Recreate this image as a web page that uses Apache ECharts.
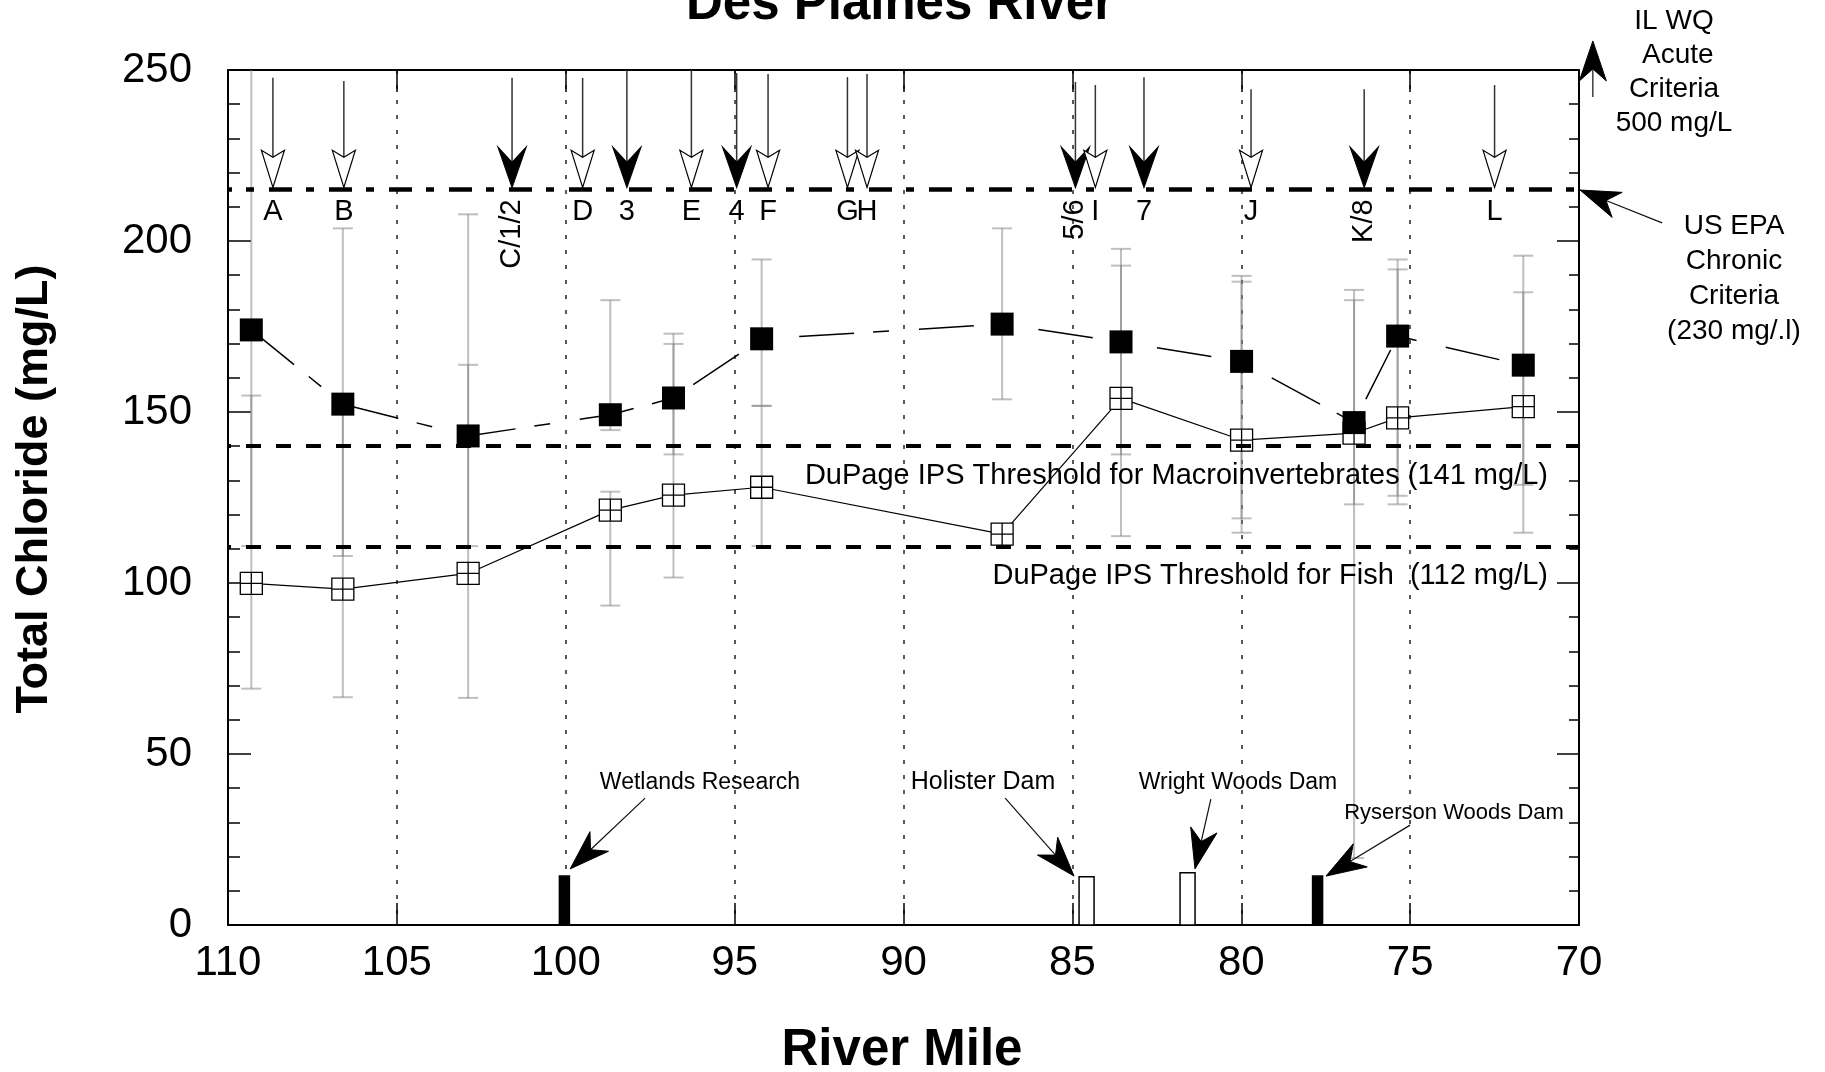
<!DOCTYPE html>
<html><head><meta charset="utf-8">
<script src="https://cdn.jsdelivr.net/npm/echarts@6/dist/echarts.min.js"></script>
<style>html,body{margin:0;padding:0;background:#fff}#c{width:1825px;height:1072px}</style>
</head><body><div id="c"></div>
<script>
// ---------- data ----------
const riverMiles     = [109.31,106.60,102.89,98.68,96.81,94.20,87.08,83.56,79.99,76.66,75.37,71.65];
const chlorideFilled = [174.0,152.3,143.0,149.2,154.1,171.4,175.7,170.5,164.8,146.9,172.2,163.7];
const chlorideOpen   = [99.9,98.2,102.8,121.3,125.7,128.0,114.3,154.0,141.8,143.8,148.3,151.6];
const rangeFilled = [[110.8,262],[107.9,203.7],[110.8,207.8],[144.7,182.7],[137.6,172.9],[151.8,194.6],[153.7,203.7],[137.6,197.7],[118.9,189.8],[19.6,185.7],[125.5,194.6],[128.7,195.7]];
const rangeOpen   = [[69.1,154.8],[66.6,150.0],[66.4,163.8],[93.4,126.7],[101.6,169.9],[110.8,151.8],null,[113.7,192.8],[114.7,188.1],[123.0,182.7],[123.0,191.7],[114.7,185.0]];

const siteNames    = ['A','B','C/1/2','D','3','E','4','F','G','H','5/6','I','7','J','K/8','L'];
const siteMiles    = [108.67,106.57,101.59,99.50,98.19,96.28,94.94,94.01,91.66,91.08,84.91,84.32,82.88,79.71,76.36,72.50];
const siteArrowTop = [247.7,246.8,247.7,247.7,250,250,249.1,248.8,247.9,248.8,246.5,245.6,247.9,244.4,244.4,245.6];
const siteFilled   = [0,0,1,0,1,0,1,0,0,0,1,0,1,0,1,0];
const siteRotated  = [0,0,1,0,0,0,0,0,0,0,1,0,0,0,1,0];

const epaChronicLine = 215.1;
const dupageMacro = 140;
const dupageFish = 110.5;

const damNames   = ['Wetlands Research','Holister Dam','Wright Woods Dam','Ryserson Woods Dam'];
const damMiles   = [100.04,84.58,81.59,77.74];
const damHeights = [14.3,14.1,15.3,14.3];
const damFilled  = [1,0,0,1];

// annotation arrows: from (mile, mg/L) to (mile, mg/L)
const annotFrom = [[97.65,37.1],[86.99,37.1],[80.90,36.8],[75.00,29.2],[67.54,205.3],[69.59,242.1]];
const annotTo   = [[99.87,16.4],[84.95,14.3],[81.37,16.4],[77.49,14.3],[69.97,214.9],[69.59,258.5]];

const xMin = 70, xMax = 110, xStep = 5;
const yMin = 0, yMax = 250, yStep = 50;

// ---------- chart ----------
const FF = '"Liberation Sans", Arial, Helvetica, sans-serif';
const chart = echarts.init(document.getElementById('c'), null, {renderer:'canvas'});

function head(tip, d, L, W, N) {
  const nx = -d[1], ny = d[0];
  const bx = tip[0] - d[0]*L, by = tip[1] - d[1]*L;
  return {
    pts: [[tip[0],tip[1]],[bx+nx*W, by+ny*W],[tip[0]-d[0]*(L-N), tip[1]-d[1]*(L-N)],[bx-nx*W, by-ny*W]],
    notch: [tip[0]-d[0]*(L-N), tip[1]-d[1]*(L-N)]
  };
}

const errData = [];
riverMiles.forEach((m,i)=>{
  errData.push([m, rangeFilled[i][0], rangeFilled[i][1]]);
  if (rangeOpen[i]) errData.push([m, rangeOpen[i][0], rangeOpen[i][1]]);
});

const option = {
  animation: false,
  textStyle: {fontFamily: FF},
  grid: {left: 228, right: 246, top: 70, bottom: 147, containLabel: false},
  xAxis: [
    {type:'value', min:xMin, max:xMax, interval:xStep, inverse:true, position:'bottom',
     axisLine:{show:true, onZero:false, lineStyle:{color:'#000', width:2}},
     axisTick:{show:true, inside:true, length:22, lineStyle:{color:'#000', width:1.5}},
     axisLabel:{fontSize:42, color:'#000', margin:17, fontFamily:FF},
     splitLine:{show:true, lineStyle:{color:'#222', width:1.5, type:[4,11]}}},
    {type:'value', min:xMin, max:xMax, interval:xStep, inverse:true, position:'top',
     axisLine:{show:true, onZero:false, lineStyle:{color:'#000', width:2}},
     axisTick:{show:true, inside:true, length:22, lineStyle:{color:'#000', width:1.5}},
     axisLabel:{show:false}, splitLine:{show:false}}
  ],
  yAxis: [
    {type:'value', min:yMin, max:yMax, interval:yStep, position:'left',
     axisLine:{show:true, onZero:false, lineStyle:{color:'#000', width:2}},
     axisTick:{show:true, inside:true, length:23, lineStyle:{color:'#000', width:1.5}},
     minorTick:{show:true, splitNumber:5, length:12, lineStyle:{color:'#000', width:1.5}},
     axisLabel:{fontSize:42, color:'#000', margin:36, fontFamily:FF},
     splitLine:{show:false}},
    {type:'value', min:yMin, max:yMax, interval:yStep, position:'right',
     axisLine:{show:true, onZero:false, lineStyle:{color:'#000', width:2}},
     axisTick:{show:true, inside:true, length:22, lineStyle:{color:'#000', width:1.5}},
     minorTick:{show:true, splitNumber:5, length:10, lineStyle:{color:'#000', width:1.5}},
     axisLabel:{show:false}, splitLine:{show:false}}
  ],
  series: [
    { // error bars
      type:'custom', z:2, clip:true, data: errData,
      renderItem(params, api){
        const x = api.value(0), lo = api.value(1), hi = api.value(2);
        const p1 = api.coord([x, lo]), p2 = api.coord([x, hi]);
        const st = {stroke:'rgba(128,128,128,0.5)', lineWidth:2};
        return {type:'group', children:[
          {type:'line', shape:{x1:p1[0], y1:p1[1], x2:p2[0], y2:p2[1]}, style:st},
          {type:'line', shape:{x1:p1[0]-10, y1:p1[1], x2:p1[0]+10, y2:p1[1]}, style:st},
          {type:'line', shape:{x1:p2[0]-10, y1:p2[1], x2:p2[0]+10, y2:p2[1]}, style:st}
        ]};
      }
    },
    { // dams
      type:'custom', z:2, clip:false,
      data: damMiles.map((m,i)=>[m, damHeights[i], damFilled[i]]),
      renderItem(params, api){
        const b = api.coord([api.value(0), 0]), t = api.coord([api.value(0), api.value(1)]);
        const filled = api.value(2) === 1, w = filled ? 10 : 15;
        return {type:'rect', shape:{x:b[0]-w/2, y:t[1], width:w, height:b[1]-t[1]},
                style:{fill: filled ? '#000' : '#fff', stroke:'#000', lineWidth:1.5}};
      }
    },
    { // open squares
      type:'line', z:3, name:'open',
      data: riverMiles.map((m,i)=>[m, chlorideOpen[i]]),
      symbol:'path://M0,0H20V20H0ZM10,0V20M0,10H20', symbolSize:22,
      itemStyle:{color:'#fff', borderColor:'#000', borderWidth:1.3},
      lineStyle:{color:'#000', width:1.2},
      markLine:{silent:true, symbol:['none','none'], label:{show:false}, animation:false,
        data:[
          {yAxis:dupageMacro, lineStyle:{color:'#000', width:4, type:[15,15], dashOffset:2}},
          {yAxis:dupageFish, lineStyle:{color:'#000', width:4, type:[15,15], dashOffset:2}},
          {yAxis:epaChronicLine, lineStyle:{color:'#000', width:4.5, type:[23,15,8,14], dashOffset:33}}
        ]}
    },
    { // filled squares
      type:'line', z:4, name:'filled',
      data: riverMiles.map((m,i)=>[m, chlorideFilled[i]]),
      symbol:'rect', symbolSize:23,
      itemStyle:{color:'#000'},
      lineStyle:{color:'#000', width:1.5, type:[55,19,16,30]}
    },
    { // site arrows + labels
      type:'custom', z:5, clip:false,
      data: siteMiles.map((m,i)=>[m, siteArrowTop[i], epaChronicLine, siteFilled[i], i]),
      renderItem(params, api){
        const i = api.value(4);
        const top = api.coord([api.value(0), api.value(1)]);
        const tip = api.coord([api.value(0), api.value(2)]);
        tip[1] -= 2;
        const filled = api.value(3) === 1;
        const h = filled ? head(tip, [0,1], 40, 14, 15) : head(tip, [0,1], 37, 11.5, 7);
        const kids = [
          {type:'line', shape:{x1:top[0], y1:top[1], x2:h.notch[0], y2:h.notch[1]}, style:{stroke:'#333', lineWidth:1.5}},
          {type:'polygon', shape:{points:h.pts}, style:{fill: filled ? '#000' : '#fff', stroke:'#000', lineWidth:1.2}}
        ];
        const name = siteNames[i];
        if (siteRotated[i]) {
          kids.push({type:'text', x:tip[0], y:tip[1]+12, rotation:Math.PI/2,
            style:{text:name, font:'29px '+FF, fill:'#000', align:'right', verticalAlign:'middle'}});
        } else {
          kids.push({type:'text', x:tip[0], y:tip[1]+25,
            style:{text:name, font:'29px '+FF, fill:'#000', align:'center', verticalAlign:'middle'}});
        }
        return {type:'group', children:kids};
      }
    },
    { // annotation arrows
      type:'custom', z:5, clip:false,
      data: annotFrom.map((f,i)=>[f[0], f[1], annotTo[i][0], annotTo[i][1]]),
      renderItem(params, api){
        const p0 = api.coord([api.value(0), api.value(1)]);
        const p1 = api.coord([api.value(2), api.value(3)]);
        const dx = p1[0]-p0[0], dy = p1[1]-p0[1], len = Math.hypot(dx,dy);
        const d = [dx/len, dy/len];
        const h = head(p1, d, 40, 13.5, 12);
        return {type:'group', children:[
          {type:'line', shape:{x1:p0[0], y1:p0[1], x2:h.notch[0], y2:h.notch[1]}, style:{stroke:'#111', lineWidth:1.2}},
          {type:'polygon', shape:{points:h.pts}, style:{fill:'#000', stroke:'#000', lineWidth:1}}
        ]};
      }
    }
  ],
  graphic: [
    {type:'text', x:900, y:5, z:10, style:{text:'Des Plaines River', font:'bold 51px '+FF, fill:'#000', align:'center', verticalAlign:'middle'}},
    {type:'text', x:35, y:489, rotation:Math.PI/2, z:10, style:{text:'Total Chloride (mg/L)', font:'bold 45px '+FF, fill:'#000', align:'center', verticalAlign:'middle'}},
    {type:'text', x:902, y:1051, z:10, style:{text:'River Mile', font:'bold 51px '+FF, fill:'#000', align:'center', verticalAlign:'middle'}},
    {type:'text', x:1674, y:72, z:10, style:{text:'IL WQ\n Acute\nCriteria\n500 mg/L', font:'28px '+FF, lineHeight:34, fill:'#000', align:'center', verticalAlign:'middle'}},
    {type:'text', x:1734, y:279, z:10, style:{text:'US EPA\nChronic\nCriteria\n(230 mg/.l)', font:'28px '+FF, lineHeight:35, fill:'#000', align:'center', verticalAlign:'middle'}},
    {type:'text', x:1548, y:476, z:10, style:{text:'DuPage IPS Threshold for Macroinvertebrates (141 mg/L)', font:'29px '+FF, fill:'#000', align:'right', verticalAlign:'middle'}},
    {type:'text', x:1548, y:576, z:10, style:{text:'DuPage IPS Threshold for Fish  (112 mg/L)', font:'29px '+FF, fill:'#000', align:'right', verticalAlign:'middle'}},
    {type:'text', x:700, y:783, z:10, style:{text:damNames[0], font:'23px '+FF, fill:'#000', align:'center', verticalAlign:'middle'}},
    {type:'text', x:983, y:782, z:10, style:{text:damNames[1], font:'25px '+FF, fill:'#000', align:'center', verticalAlign:'middle'}},
    {type:'text', x:1238, y:783, z:10, style:{text:damNames[2], font:'23px '+FF, fill:'#000', align:'center', verticalAlign:'middle'}},
    {type:'text', x:1454, y:813, z:10, style:{text:damNames[3], font:'22px '+FF, fill:'#000', align:'center', verticalAlign:'middle'}}
  ]
};
chart.setOption(option);
</script>
</body></html>
